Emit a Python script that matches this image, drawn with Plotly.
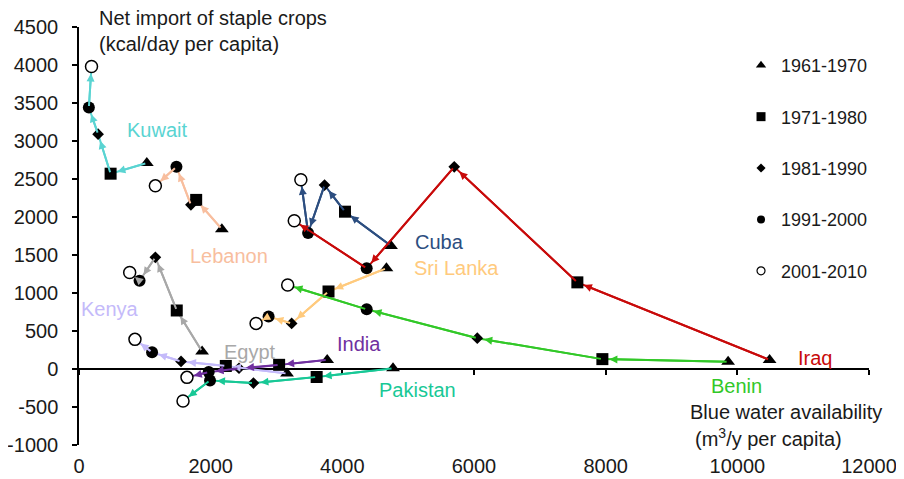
import plotly.graph_objects as go

# ---------------- data ----------------
periods = ["1961-1970", "1971-1980", "1981-1990", "1991-2000", "2001-2010"]

countries = ["Kuwait", "Lebanon", "Egypt", "Kenya", "India", "Pakistan",
             "Cuba", "Iraq", "Sri Lanka", "Benin"]

kuwait_x = [1030, 480, 290, 150, 190]
kuwait_y = [2710, 2570, 3090, 3440, 3980]
lebanon_x = [2170, 1780, 1700, 1480, 1160]
lebanon_y = [1840, 2225, 2160, 2660, 2410]
egypt_x = [1870, 1485, 1160, 920, 770]
egypt_y = [230, 770, 1470, 1160, 1270]
kenya_x = [3160, 2230, 1550, 1110, 850]
kenya_y = [-60, 40, 100, 220, 390]
india_x = [3770, 3040, 2430, 1970, 1640]
india_y = [120, 55, 10, -40, -110]
pakistan_x = [4770, 3610, 2650, 1990, 1580]
pakistan_y = [10, -105, -185, -150, -420]
cuba_x = [4740, 4040, 3730, 3480, 3370]
cuba_y = [1620, 2070, 2420, 1790, 2490]
iraq_x = [10490, 7570, 5700, 4370, 3270]
iraq_y = [120, 1140, 2660, 1325, 1950]
srilanka_x = [4670, 3790, 3230, 2880, 2690]
srilanka_y = [1325, 1020, 600, 690, 600]
benin_x = [9860, 7950, 6050, 4370, 3170]
benin_y = [95, 130, 405, 785, 1105]

x_ticks = [0, 2000, 4000, 6000, 8000, 10000, 12000]
x_tick_labels = ["0", "2000", "4000", "6000", "8000", "10000", "12000"]
y_ticks = [-1000, -500, 0, 500, 1000, 1500, 2000, 2500, 3000, 3500, 4000, 4500]
y_tick_labels = ["-1000", "-500", "0", "500", "1000", "1500", "2000", "2500",
                 "3000", "3500", "4000", "4500"]

# ---------------- styling ----------------
series_x = [kuwait_x, lebanon_x, egypt_x, kenya_x, india_x, pakistan_x,
            cuba_x, iraq_x, srilanka_x, benin_x]
series_y = [kuwait_y, lebanon_y, egypt_y, kenya_y, india_y, pakistan_y,
            cuba_y, iraq_y, srilanka_y, benin_y]

line_colors = {
    "Kuwait": "rgb(90,212,210)",
    "Lebanon": "rgb(248,190,158)",
    "Egypt": "rgb(168,168,168)",
    "Kenya": "rgb(196,186,250)",
    "India": "rgb(112,48,160)",
    "Pakistan": "rgb(24,200,150)",
    "Cuba": "rgb(44,78,128)",
    "Iraq": "rgb(200,10,10)",
    "Sri Lanka": "rgb(255,202,125)",
    "Benin": "rgb(50,200,40)",
}
label_pos = {  # label anchor positions (layout)
    "Kuwait": (1190, 3140),
    "Lebanon": (2280, 1490),
    "Kenya": (470, 790),
    "Egypt": (2600, 225),
    "India": (4250, 330),
    "Pakistan": (5140, -275),
    "Cuba": (5480, 1670),
    "Sri Lanka": (5740, 1330),
    "Benin": (9980, -225),
    "Iraq": (11180, 140),
}

symbols = ["triangle-up", "square", "diamond", "circle", "circle"]
sizes = [12, 12, 9, 12, 12]
leg_sizes = [9, 9, 7, 8, 8]
fills = ["black", "black", "black", "black", "white"]

FONT = "Liberation Sans, Arial, sans-serif"
TXT = "#1a1a1a"

fig = go.Figure()

# country lines
for name, xs, ys in zip(countries, series_x, series_y):
    fig.add_trace(go.Scatter(x=xs, y=ys, mode="lines",
                             line=dict(color=line_colors[name], width=2),
                             showlegend=False, hoverinfo="skip"))

# markers per period
for i, p in enumerate(periods):
    xs = [s[i] for s in series_x]
    ys = [s[i] for s in series_y]
    fig.add_trace(go.Scatter(
        x=xs, y=ys, mode="markers", showlegend=False,
        marker=dict(symbol=symbols[i], size=sizes[i], color=fills[i],
                    line=dict(color="black", width=1.5 if i == 4 else 0))))
    # legend entry
    fig.add_trace(go.Scatter(
        x=[None], y=[None], mode="markers", name=p, legendgroup=p,
        marker=dict(symbol=symbols[i], size=leg_sizes[i], color=fills[i],
                    line=dict(color="black", width=1.2 if i == 4 else 0))))

# helper trace for the y=0 axis with ticks
fig.add_trace(go.Scatter(x=[None], y=[None], xaxis="x2", showlegend=False,
                         hoverinfo="skip"))

annotations = []
# arrowheads
for name, xs, ys in zip(countries, series_x, series_y):
    for j in range(len(xs) - 1):
        annotations.append(dict(
            x=xs[j + 1], y=ys[j + 1], ax=xs[j], ay=ys[j],
            xref="x", yref="y", axref="x", ayref="y", text="",
            showarrow=True, arrowhead=2, arrowsize=0.8, arrowwidth=2,
            arrowcolor=line_colors[name], standoff=7))

# country labels
for name in countries:
    lx, ly = label_pos[name]
    annotations.append(dict(x=lx, y=ly, xref="x", yref="y", text=name,
                            showarrow=False,
                            font=dict(family=FONT, size=20,
                                      color=line_colors[name])))

# axis titles
annotations += [
    dict(x=0.023, y=1.0215, xref="paper", yref="paper", xanchor="left",
         yanchor="middle", text="Net import of staple crops", showarrow=False,
         font=dict(family=FONT, size=20, color=TXT)),
    dict(x=0.023, y=0.9593, xref="paper", yref="paper", xanchor="left",
         yanchor="middle", text="(kcal/day per capita)", showarrow=False,
         font=dict(family=FONT, size=20, color=TXT)),
    dict(x=(688 - 79) / 790, y=(445 - 412) / 418, xref="paper", yref="paper",
         xanchor="left", yanchor="middle", text="Blue water availability",
         showarrow=False, font=dict(family=FONT, size=20, color=TXT)),
    dict(x=(693 - 79) / 790, y=(445 - 437) / 418, xref="paper", yref="paper",
         xanchor="left", yanchor="middle", text="(m<sup>3</sup>/y per capita)",
         showarrow=False, font=dict(family=FONT, size=20, color=TXT)),
]

# page has an 8px body margin: figure spans 8..904 x 8..479
fig.update_layout(
    template="none",
    width=896, height=471,
    margin=dict(l=71, r=35, t=19, b=34, autoexpand=False),
    paper_bgcolor="white", plot_bgcolor="white",
    font=dict(family=FONT, size=20, color=TXT),
    showlegend=True,
    legend=dict(x=0.838, y=0.952, xanchor="left", yanchor="top",
                font=dict(family=FONT, size=18, color=TXT),
                tracegroupgap=25, bgcolor="rgba(0,0,0,0)", borderwidth=0),
    xaxis=dict(range=[0, 12000], tickvals=x_ticks, ticktext=x_tick_labels,
               showline=False, automargin=False,
               showgrid=False, zeroline=False, ticks="outside", ticklen=3,
               tickcolor="rgba(0,0,0,0)", tickfont=dict(size=20, color=TXT)),
    xaxis2=dict(range=[0, 12000], tickvals=x_ticks, overlaying="x",
                anchor="free", position=1000 / 5500, showline=True,
                linecolor="black", linewidth=1.5, ticks="outside", ticklen=5,
                tickwidth=1.5, tickcolor="black", showticklabels=False,
                showgrid=False, zeroline=False, automargin=False),
    yaxis=dict(range=[-1000, 4500], tickvals=y_ticks, ticktext=y_tick_labels,
               showline=True, automargin=False,
               linecolor="black", linewidth=1.5, ticks="outside", ticklen=5,
               tickwidth=1.5, tickcolor="black", showgrid=False,
               zeroline=False, ticklabelstandoff=10,
               tickfont=dict(size=20, color=TXT)),
    annotations=annotations,
)

fig.write_html("out.html")
